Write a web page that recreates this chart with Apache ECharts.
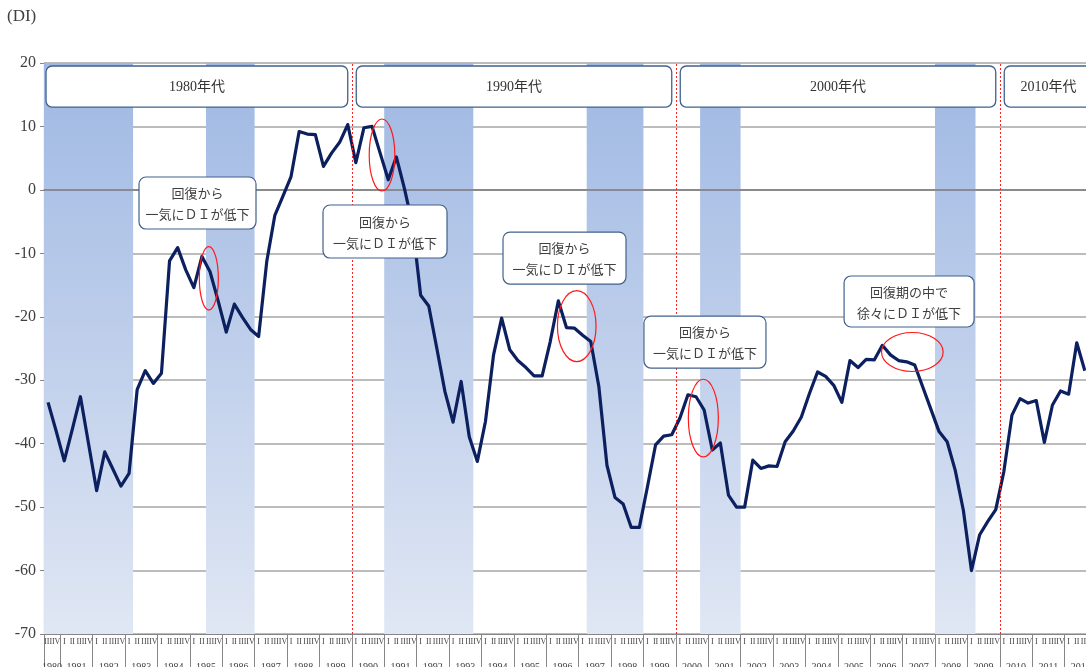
<!DOCTYPE html>
<html>
<head>
<meta charset="utf-8">
<script src="https://cdn.jsdelivr.net/npm/echarts@6/dist/echarts.min.js"></script>
<style>
  html, body { margin: 0; padding: 0; background: #ffffff; }
  #chart { width: 1086px; height: 667px; }
</style>
</head>
<body>
<div id="chart"></div>
<script>
// Quarterly business conditions DI, 1980 Q3 onwards
const firstYear = 1980;
const firstQuarterIndex = 2;          // series starts at Q-III
const quarterNames = ['I', 'II', 'III', 'IV'];
const quarterCount = 130;             // 1980/III .. 2012/IV on the axis

const diValues = [
  -33.5, -38.0, -42.7, -37.7, -32.6, -40.0, -47.4, -41.3, -44.0, -46.7,
  -44.7, -31.5, -28.5, -30.5, -28.9, -11.2, -9.1, -12.6, -15.4, -10.5,
  -12.9, -17.5, -22.4, -18.0, -20.1, -22.0, -23.1, -11.3, -4.0, -1.0,
  2.1, 9.2, 8.8, 8.7, 3.7, 5.8, 7.5, 10.3, 4.3, 9.8,
  10.0, 5.8, 1.6, 5.2, 0.2, -5.5, -16.6, -18.3, -25.0, -31.8,
  -36.6, -30.2, -38.9, -42.8, -36.5, -26.0, -20.2, -25.2, -26.9, -28.0,
  -29.3, -29.3, -23.9, -17.5, -21.7, -21.8, -22.9, -23.9, -31.0, -43.4,
  -48.5, -49.5, -53.2, -53.2, -46.8, -40.2, -38.8, -38.6, -36.0, -32.3,
  -32.6, -34.7, -41.0, -39.9, -48.1, -50.0, -50.0, -42.6, -43.9, -43.5,
  -43.6, -39.7, -38.0, -35.8, -32.1, -28.7, -29.4, -30.8, -33.5, -26.9,
  -28.0, -26.7, -26.8, -24.5, -26.0, -26.9, -27.1, -27.6, -31.1, -34.6,
  -38.1, -39.7, -44.2, -50.5, -60.0, -54.4, -52.3, -50.4, -44.4, -35.5,
  -32.9, -33.6, -33.2, -39.8, -33.9, -31.7, -32.2, -24.1, -28.5
];

// Recession periods (first and last quarter, shaded)
const recessions = [
  ['1980/III', '1983/I'],
  ['1985/III', '1986/IV'],
  ['1991/I', '1993/III'],
  ['1997/II', '1998/IV'],
  ['2000/IV', '2001/IV'],
  ['2008/I', '2009/I']
];

const decadeLabels = ['1980年代', '1990年代', '2000年代', '2010年代'];
const decadeStarts = ['1980/III', '1990/I', '2000/I', '2010/I'];

const calloutTexts = [
  '回復から\n一気にＤＩが低下',
  '回復から\n一気にＤＩが低下',
  '回復から\n一気にＤＩが低下',
  '回復から\n一気にＤＩが低下',
  '回復期の中で\n徐々にＤＩが低下'
];

// ---- category keys built from the start quarter ----
const categories = [];
for (let i = 0; i < quarterCount; i++) {
  const k = firstQuarterIndex + i;
  categories.push((firstYear + Math.floor(k / 4)) + '/' + quarterNames[k % 4]);
}
const qIndex = key => categories.indexOf(key);

// year ticks (boundaries) and year label positions (centres), in quarter units
const yearTicks = [0];
const yearCentres = [];
const yearOfCentre = {};
for (let y = firstYear; ; y++) {
  const s = Math.max(0, (y - firstYear) * 4 - firstQuarterIndex);
  if (s >= quarterCount) break;
  const e = Math.min(quarterCount, s + (s === 0 ? 4 - firstQuarterIndex : 4));
  yearTicks.push(e);
  const c = (s + e) / 2;
  yearCentres.push(c);
  yearOfCentre[c] = y;
}

// ---- layout of overlay shapes (quarter position, DI value, pixel size) ----
const calloutLayout = [
  { q: 18.95, v: -2.07, w: 117, h: 52 },
  { q: 42.10, v: -6.56, w: 124, h: 53 },
  { q: 64.26, v: -10.74, w: 123, h: 52 },
  { q: 81.60, v: -23.98, w: 122, h: 52 },
  { q: 106.80, v: -17.59, w: 130, h: 51 }
];
const ellipseLayout = [
  { q: 20.35, v: -13.94, rx: 9.5, ry: 31.7 },
  { q: 41.73, v: 5.50, rx: 12.8, ry: 36 },
  { q: 65.77, v: -21.46, rx: 19.3, ry: 35.5 },
  { q: 81.40, v: -35.96, rx: 15, ry: 38.8 },
  { q: 107.20, v: -25.55, rx: 30.8, ry: 19.5 }
];

const SERIF = "'Liberation Serif', 'Noto Sans CJK JP', serif";
const CJK = "'Noto Sans CJK JP', 'Liberation Serif', sans-serif";
const AXIS_GRAY = '#868686';
const RED_DOTS = { color: '#ff2020', type: [2, 2], width: 1, opacity: 1 };

const chart = echarts.init(document.getElementById('chart'), null, { renderer: 'canvas' });

const bandGradient = new echarts.graphic.LinearGradient(0, 0, 0, 1, [
  { offset: 0, color: '#9fb8e3' },
  { offset: 0.5, color: '#bfcfeb' },
  { offset: 1, color: '#e0e7f4' }
]);

const option = {
  animation: false,
  backgroundColor: '#ffffff',
  grid: { left: 44, top: 63, width: 1053, height: 571, containLabel: false, outerBoundsMode: 'none' },
  xAxis: [
    {
      type: 'category',
      data: categories,
      position: 'bottom',
      boundaryGap: true,
      axisLine: { onZero: false, lineStyle: { color: AXIS_GRAY, width: 1.2 } },
      axisTick: { interval: 0, length: 22, lineStyle: { color: AXIS_GRAY, width: 1 } },
      axisLabel: {
        interval: 0, margin: 4, fontSize: 8, color: '#404040', fontFamily: SERIF,
        formatter: v => v.split('/')[1]
      },
      splitLine: { show: false }
    },
    {
      type: 'value',
      min: 0, max: quarterCount,
      position: 'bottom',
      axisLine: { show: false, onZero: false },
      axisTick: { show: true, customValues: yearTicks, length: 40, lineStyle: { color: AXIS_GRAY, width: 1 } },
      axisLabel: {
        show: true, customValues: yearCentres, margin: 28, fontSize: 10, color: '#404040', fontFamily: SERIF,
        formatter: v => String(yearOfCentre[v] !== undefined ? yearOfCentre[v] : '')
      },
      splitLine: { show: false }
    },
    {
      type: 'category',
      data: categories,
      position: 'bottom',
      boundaryGap: true,
      z: 3,
      axisLine: { onZero: true, lineStyle: { color: '#7a7a7a', width: 1.5 } },
      axisTick: { interval: 0, length: 3, lineStyle: { color: '#8a8a8a', width: 1 } },
      axisLabel: { show: false },
      splitLine: { show: false }
    }
  ],
  yAxis: {
    type: 'value',
    min: -70, max: 20, interval: 10,
    axisLine: { show: true, onZero: false, lineStyle: { color: AXIS_GRAY, width: 1.2 } },
    axisTick: { show: true, length: 4, lineStyle: { color: AXIS_GRAY } },
    axisLabel: { fontSize: 16, margin: 8, color: '#404040', fontFamily: SERIF },
    splitLine: { show: true, lineStyle: { color: '#a6a6a6', width: 1.5 } }
  },
  series: [
    {
      name: 'bands',
      type: 'line',
      xAxisIndex: 1,
      yAxisIndex: 0,
      data: [],
      silent: true,
      z: 2,
      color: '#ff2020',
      markArea: {
        silent: true,
        itemStyle: { color: bandGradient },
        data: recessions.map(r => [{ xAxis: qIndex(r[0]) }, { xAxis: qIndex(r[1]) + 1 }])
      },
      markLine: {
        silent: true,
        symbol: 'none',
        label: { show: false },
        lineStyle: RED_DOTS,
        data: decadeStarts.slice(1).map(k => ({ xAxis: qIndex(k), lineStyle: RED_DOTS }))
      }
    },
    {
      name: 'DI',
      type: 'line',
      xAxisIndex: 0,
      yAxisIndex: 0,
      data: diValues,
      showSymbol: false,
      symbol: 'none',
      z: 4,
      silent: true,
      lineStyle: { color: '#0c1f5e', width: 3.2, join: 'round' }
    }
  ],
  graphic: []
};

chart.setOption(option);

function buildOverlays() {
  const px = q => chart.convertToPixel({ xAxisIndex: 1 }, q);
  const py = v => chart.convertToPixel({ yAxisIndex: 0 }, v);
  const els = [];

  // axis unit label
  els.push({
    type: 'text', x: 7, y: 8, z: 20,
    style: { text: '(DI)', fill: '#404040', font: '17px ' + SERIF }
  });

  // decade header boxes
  const starts = decadeStarts.map(qIndex);
  decadeLabels.forEach((label, i) => {
    const s = starts[i];
    const e = i + 1 < starts.length ? starts[i + 1] : quarterCount;
    const x0 = px(s + (i === 0 ? 0.25 : 0.55));
    const x1 = px(e - 0.5);
    const y0 = py(19.53), y1 = py(13.06);
    els.push({
      type: 'rect', z: 10,
      shape: { x: x0, y: y0, width: x1 - x0, height: y1 - y0, r: 6 },
      style: { fill: '#ffffff', stroke: '#41618c', lineWidth: 1.3 }
    });
    els.push({
      type: 'text', z: 11, x: (x0 + x1) / 2, y: (y0 + y1) / 2 + 1,
      style: { text: label, fill: '#333333', font: '14px ' + SERIF, align: 'center', verticalAlign: 'middle' }
    });
  });

  // callout boxes
  calloutTexts.forEach((t, i) => {
    const L = calloutLayout[i];
    const cx = px(L.q), cy = py(L.v);
    els.push({
      type: 'rect', z: 10,
      shape: { x: cx - L.w / 2, y: cy - L.h / 2, width: L.w, height: L.h, r: 7 },
      style: { fill: '#ffffff', stroke: '#41618c', lineWidth: 1.2 }
    });
    els.push({
      type: 'text', z: 11, x: cx, y: cy + 1,
      style: { text: t, fill: '#404040', font: '13px ' + CJK, lineHeight: 21, align: 'center', verticalAlign: 'middle' }
    });
  });

  // red highlight ellipses
  ellipseLayout.forEach(E => {
    els.push({
      type: 'ellipse', z: 12,
      shape: { cx: px(E.q), cy: py(E.v), rx: E.rx, ry: E.ry },
      style: { fill: 'none', stroke: '#ff1a1a', lineWidth: 1.2 }
    });
  });

  chart.setOption({ graphic: els });
}

buildOverlays();
</script>
</body>
</html>
